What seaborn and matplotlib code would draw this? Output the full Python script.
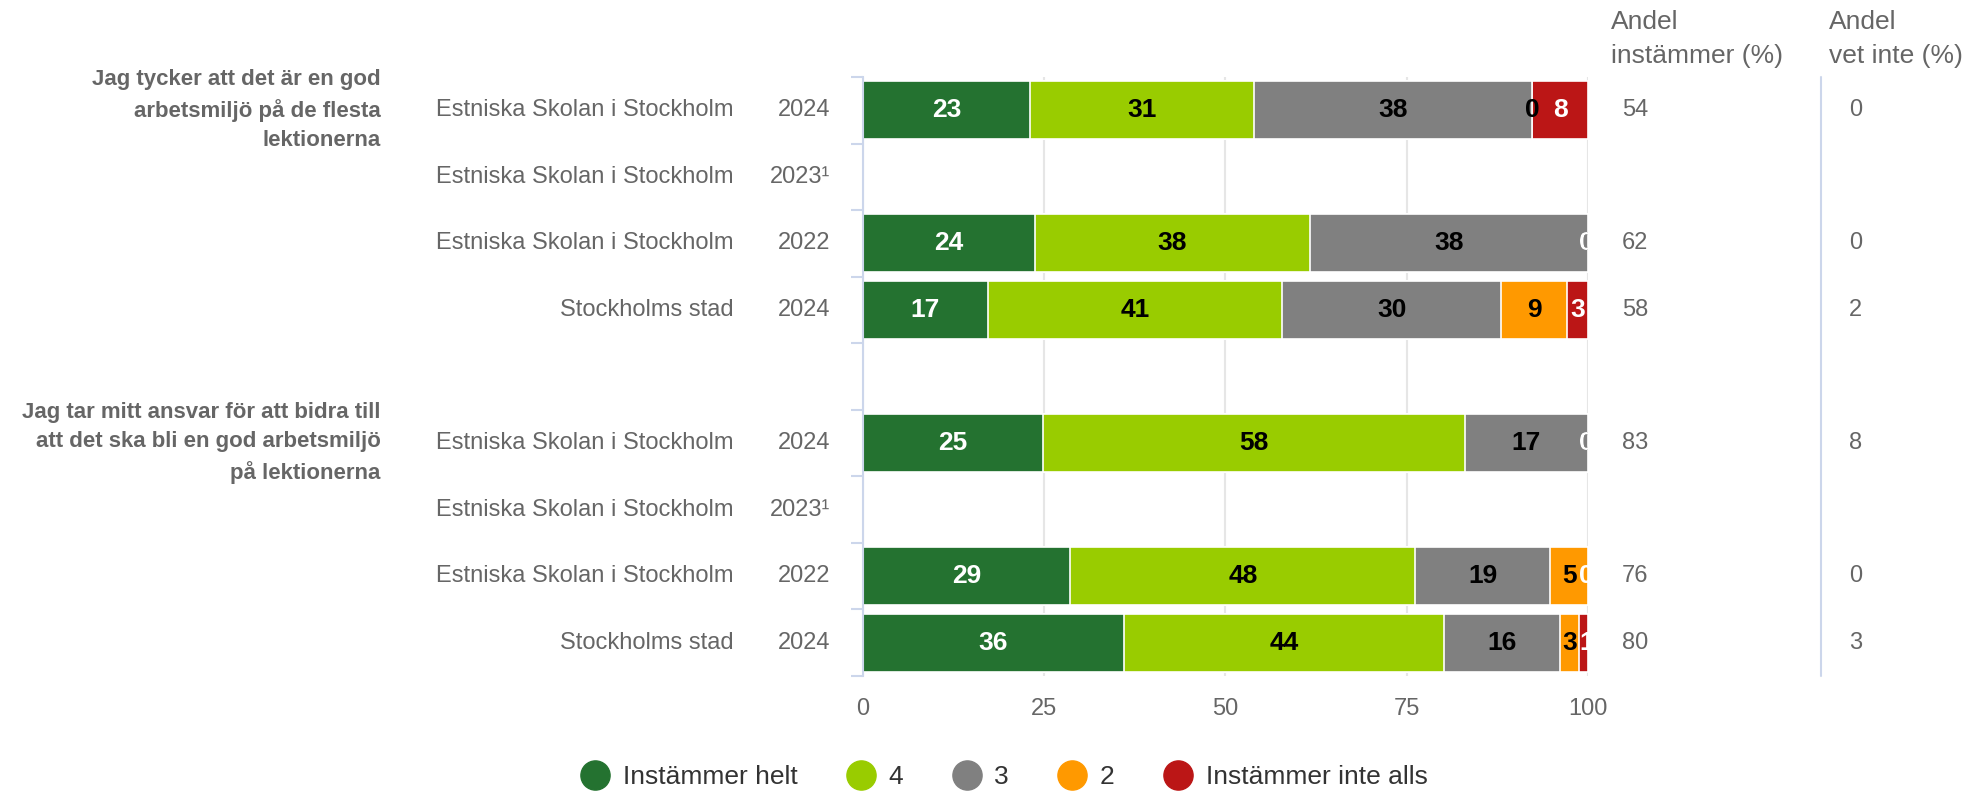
import numpy as np
import pandas as pd
import matplotlib.pyplot as plt
import seaborn as sns
from matplotlib.lines import Line2D

questions = ["Jag tycker att det är en god\narbetsmiljö på de flesta\nlektionerna",
             "Jag tar mitt ansvar för att bidra till\natt det ska bli en god arbetsmiljö\npå lektionerna"]
units = ["Estniska Skolan i Stockholm", "Estniska Skolan i Stockholm",
         "Estniska Skolan i Stockholm", "Stockholms stad"]
years = ["2024", "2023¹", "2022", "2024"]
categories = ["Instämmer helt", "4", "3", "2", "Instämmer inte alls"]
colors = ["#247230", "#99cc00", "#808080", "#ff9900", "#bb1616"]
label_colors = ["white", "black", "black", "black", "white"]

# one row per unit/year, None = no data that year
q1_values = [[23.1, 30.8, 38.4, 0, 7.7],
             None,
             [23.7, 38.0, 38.3, 0, 0],
             [17.2, 40.6, 30.2, 9.1, 2.9]]
q2_values = [[24.8, 58.2, 17.0, 0, 0],
             None,
             [28.6, 47.6, 18.6, 5.2, 0],
             [36.0, 44.2, 16.0, 2.6, 1.2]]
q1_agree = ["54", "", "62", "58"]
q1_dont_know = ["0", "", "0", "2"]
q2_agree = ["83", "", "76", "80"]
q2_dont_know = ["8", "", "0", "3"]

GRAY = "#666666"
AXIS = "#ccd6eb"

# long table: row key, category, value, cumulative end
order = []
recs = []
for qi, vals in enumerate([q1_values, q2_values]):
    if qi > 0:
        order.append("gap")
    for j, v in enumerate(vals):
        key = f"q{qi}_{j}"
        order.append(key)
        if v is None:
            continue
        cum = np.cumsum(v)
        for k, cat in enumerate(categories):
            recs.append(dict(row=key, cat=cat, k=k, value=v[k], cum=cum[k]))
df = pd.DataFrame(recs)

sns.set_theme(style="white")
plt.rcParams['font.family'] = ['Liberation Sans', 'DejaVu Sans']

fig = plt.figure(figsize=(19.72, 7.92), dpi=100)
ax = fig.add_axes([0.4376, 0.1465, 0.3677, 0.7563])

# stacked bars: draw cumulative totals from last category to first
for k in range(len(categories) - 1, -1, -1):
    sns.barplot(data=df[df.k == k], x="cum", y="row", order=order, orient="h",
                color=colors[k], saturation=1, width=0.87, errorbar=None,
                edgecolor="white", linewidth=1.2, ax=ax)

# data labels (labels at the very end are pushed to the plot edge and cut)
for _, r in df.iterrows():
    y = order.index(r.row)
    xc = r.cum - r.value / 2
    ha = "center"
    if xc > 99:
        xc, ha = 100.8, "right"
    ax.text(xc, y, f"{round(r.value)}", ha=ha, va="center", clip_on=True,
            fontsize=19, fontweight="bold", color=label_colors[r.k], zorder=5)

ax.set_xlim(0, 100)
ax.set_ylim(len(order) - 0.5, -0.5)
ax.set_xticks([0, 25, 50, 75, 100])
ax.xaxis.grid(True, color="#e6e6e6", lw=1.5)
ax.set_axisbelow(True)
ax.set_xlabel("")
ax.set_ylabel("")
for s in ["top", "right", "bottom"]:
    ax.spines[s].set_visible(False)
ax.spines["left"].set_color(AXIS)
ax.spines["left"].set_linewidth(1.5)
ax.tick_params(axis="x", length=0, pad=16, labelsize=17, labelcolor=GRAY)
ax.set_yticks([])
ax.set_yticks(np.arange(-0.5, len(order), 1), minor=True)
ax.tick_params(axis="y", which="minor", length=9, width=1.5, color=AXIS,
               direction="out", left=True, labelleft=False)

# row labels and side columns
tr = ax.get_yaxis_transform()
for qi, (agree, dk) in enumerate([(q1_agree, q1_dont_know), (q2_agree, q2_dont_know)]):
    first = order.index(f"q{qi}_0")
    ax.text(-0.665, first, questions[qi], transform=tr, ha="right", va="center",
            ma="right", fontsize=16, fontweight="bold", color=GRAY, linespacing=1.5)
    for j in range(len(units)):
        y = order.index(f"q{qi}_{j}")
        ax.text(-0.178, y, units[j], transform=tr, ha="right", va="center",
                fontsize=17, color=GRAY)
        ax.text(-0.0455, y, years[j], transform=tr, ha="right", va="center",
                fontsize=17, color=GRAY)
        ax.text(1.047, y, agree[j], transform=tr, ha="left", va="center",
                fontsize=17, color=GRAY)
        ax.text(1.36, y, dk[j], transform=tr, ha="left", va="center",
                fontsize=17, color=GRAY)

ax.plot([1.321, 1.321], [-0.5, len(order) - 0.5], transform=tr, clip_on=False,
        color=AXIS, lw=1.5)

fig.text(0.817, 0.987, "Andel\ninstämmer (%)", ha="left", va="top",
         fontsize=19, color=GRAY, linespacing=1.5)
fig.text(0.9275, 0.987, "Andel\nvet inte (%)", ha="left", va="top",
         fontsize=19, color=GRAY, linespacing=1.5)

handles = [Line2D([], [], marker="o", ls="", markersize=21,
                  markerfacecolor=c, markeredgecolor=c) for c in colors]
fig.legend(handles, categories, loc="center", bbox_to_anchor=(0.5096, 0.019),
           ncol=5, frameon=False, fontsize=19, handlelength=1.0,
           handletextpad=0.55, columnspacing=1.9, labelcolor="#333333")

fig.savefig("out.png", dpi=100)
